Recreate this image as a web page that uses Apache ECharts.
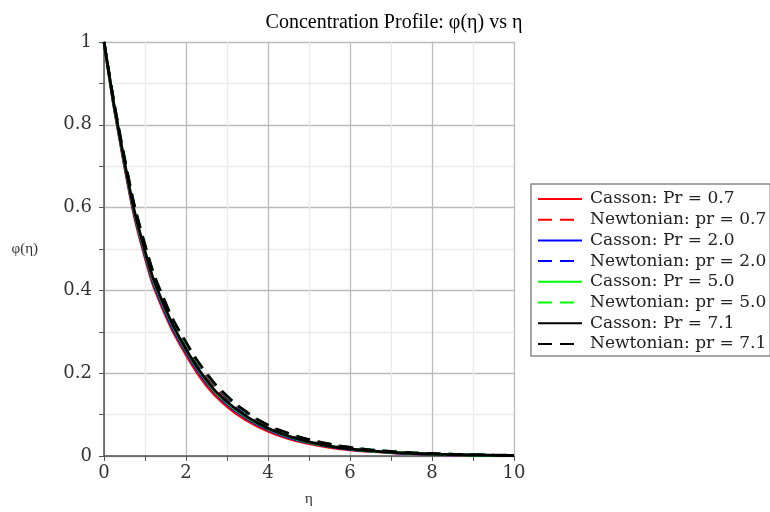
<!DOCTYPE html>
<html><head><meta charset="utf-8">
<script src="https://cdn.jsdelivr.net/npm/echarts@6/dist/echarts.min.js"></script>
<style>html,body{margin:0;padding:0;background:#fff}#c{width:770px;height:512px}</style>
</head><body><div id="c"></div>
<script>
const eta = [0,0.5,1,1.5,2,2.5,3,3.5,4,4.5,5,5.5,6,6.5,7,7.5,8,8.5,9,9.5,10];
const cassonPr07 = [1,0.700,0.480,0.340,0.245,0.170,0.120,0.085,0.060,0.042,0.030,0.021,0.015,0.011,0.008,0.0055,0.004,0.003,0.002,0.0015,0.001];
const newtonPr07 = [1,0.715,0.502,0.362,0.266,0.190,0.137,0.098,0.070,0.050,0.036,0.026,0.019,0.0135,0.0098,0.007,0.005,0.0036,0.0026,0.0019,0.0014];
const cassonPr20 = [1,0.705,0.487,0.347,0.252,0.177,0.126,0.090,0.064,0.045,0.032,0.023,0.016,0.012,0.0085,0.006,0.0043,0.003,0.0022,0.0016,0.0012];
const newtonPr20 = [1,0.718,0.507,0.367,0.271,0.196,0.142,0.102,0.073,0.053,0.038,0.028,0.020,0.0145,0.0105,0.0076,0.0055,0.004,0.0029,0.0021,0.0015];
const cassonPr50 = [1,0.708,0.492,0.352,0.256,0.181,0.129,0.092,0.066,0.047,0.033,0.024,0.017,0.012,0.009,0.0063,0.0045,0.0032,0.0023,0.0017,0.0012];
const newtonPr50 = [1,0.719,0.509,0.369,0.273,0.198,0.144,0.104,0.074,0.054,0.039,0.0285,0.0205,0.0148,0.0108,0.0078,0.0057,0.0042,0.003,0.0021,0.0015];
const cassonPr71 = [1,0.710,0.495,0.355,0.258,0.183,0.131,0.094,0.067,0.048,0.034,0.024,0.017,0.0125,0.009,0.0065,0.0046,0.0033,0.0024,0.0017,0.0012];
const newtonPr71 = [1,0.720,0.510,0.370,0.275,0.200,0.145,0.105,0.075,0.055,0.040,0.029,0.021,0.015,0.011,0.008,0.006,0.0043,0.0031,0.0022,0.0016];
const seriesNames = ['Casson: Pr = 0.7','Newtonian: pr = 0.7','Casson: Pr = 2.0','Newtonian: pr = 2.0','Casson: Pr = 5.0','Newtonian: pr = 5.0','Casson: Pr = 7.1','Newtonian: pr = 7.1'];
const seriesData = [cassonPr07,newtonPr07,cassonPr20,newtonPr20,cassonPr50,newtonPr50,cassonPr71,newtonPr71];
const colors = ['#ff0000','#ff0000','#0000ff','#0000ff','#00ff00','#00ff00','#000000','#000000'];

const serif = '"DejaVu Serif", serif';
const times = '"Liberation Serif", serif';
const chart = echarts.init(document.getElementById('c'));
chart.setOption({
  animation:false,
  title:{text:'Concentration Profile: φ(η) vs η',left:389,textAlign:'center',top:8,
    textStyle:{fontFamily:times,fontSize:20,fontWeight:'normal',color:'#000'}},
  grid:{left:104,right:256,top:42,bottom:56},
  legend:{orient:'vertical',left:531,top:184,padding:[6.5,4,3.5,6],itemWidth:44,itemHeight:14,itemGap:3.7,
    borderColor:'#888',borderWidth:1.5,borderRadius:0,
    itemStyle:{opacity:0},
    textStyle:{fontFamily:serif,fontSize:17,lineHeight:17,color:'#222',padding:[0,0,0,3]},
    data:seriesNames},
  xAxis:{type:'value',min:0,max:10,interval:2,name:'η',nameLocation:'middle',nameGap:36,
    nameTextStyle:{fontFamily:times,fontSize:15,color:'#333'},
    axisLine:{show:true,onZero:false,lineStyle:{color:'#555',width:1.5}},
    axisTick:{show:true,length:5,lineStyle:{color:'#555'}},
    minorTick:{show:true,splitNumber:2,length:5,lineStyle:{color:'#555'}},
    splitLine:{show:true,lineStyle:{color:'#bbb',width:1.3}},
    minorSplitLine:{show:true,lineStyle:{color:'#eaeaea',width:1.3}},
    axisLabel:{fontFamily:serif,fontSize:18,color:'#333',margin:8}},
  yAxis:{type:'value',min:0,max:1,interval:0.2,name:'φ(η)',nameLocation:'middle',nameRotate:0,nameGap:66,
    nameTextStyle:{fontFamily:times,fontSize:15,color:'#333'},
    axisLine:{show:true,onZero:false,lineStyle:{color:'#555',width:1.5}},
    axisTick:{show:true,length:5,lineStyle:{color:'#555'}},
    minorTick:{show:true,splitNumber:2,length:5,lineStyle:{color:'#555'}},
    splitLine:{show:true,lineStyle:{color:'#bbb',width:1.3}},
    minorSplitLine:{show:true,lineStyle:{color:'#eaeaea',width:1.3}},
    axisLabel:{fontFamily:serif,fontSize:18,color:'#333',margin:12,formatter:v=>String(+v.toFixed(1))}},
  series: seriesNames.map((n,i)=>({
    name:n,type:'line',smooth:true,symbol:'none',
    data:eta.map((x,j)=>[x,seriesData[i][j]]),
    lineStyle:{color:colors[i],width:2.8,type:(i%2===1)?[14,8]:'solid'},
    itemStyle:{color:colors[i]}
  }))
});
</script></body></html>
